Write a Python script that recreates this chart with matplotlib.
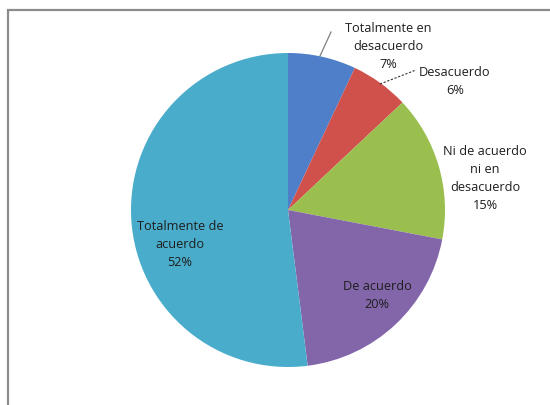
import matplotlib.pyplot as plt
from matplotlib.patches import Rectangle

categorias = ['Totalmente en\ndesacuerdo', 'Desacuerdo', 'Ni de acuerdo\nni en\ndesacuerdo',
              'De acuerdo', 'Totalmente de\nacuerdo']
porcentajes = [7, 6, 15, 20, 52]
colores = ['#4f7fc8', '#d0504c', '#9bbf4f', '#8366aa', '#4aaccb']

# posiciones de las etiquetas en pixeles (x, y desde arriba)
pos_etiquetas = [(388, 46), (455, 81), (485, 179), (377, 296), (180, 245)]

W, H = 550, 406
fig = plt.figure(figsize=(W / 100, H / 100), dpi=100)
ax = fig.add_axes([0, 0, 1, 1])

# marco gris del area del grafico
ax.add_patch(Rectangle((8, -10), W + 10, H - 11 + 10, fill=False, edgecolor='#8c8c8c', lw=1.6))

cx, cy, r = 288, H - 211, 157
ax.pie(porcentajes, colors=colores, startangle=90, counterclock=False,
       center=(cx, cy), radius=r, frame=True,
       wedgeprops=dict(linewidth=0))
ax.set_xlim(0, W)
ax.set_ylim(0, H)
ax.set_aspect('equal')
ax.axis('off')

for cat, pct, (x, y) in zip(categorias, porcentajes, pos_etiquetas):
    ax.text(x, H - y, f'{cat}\n{pct}%', ha='center', va='center', fontsize=9.2,
            family='Open Sans', color='#1e1e1e', linespacing=1.5)

# lineas guia
ax.plot([320, 331], [H - 57, H - 33], color='#7f7f7f', lw=0.9)
ax.plot([380, 416], [H - 85, H - 71], color='#333333', lw=0.8, ls=(0, (2, 1.5)))

fig.savefig('out.png', dpi=100)
